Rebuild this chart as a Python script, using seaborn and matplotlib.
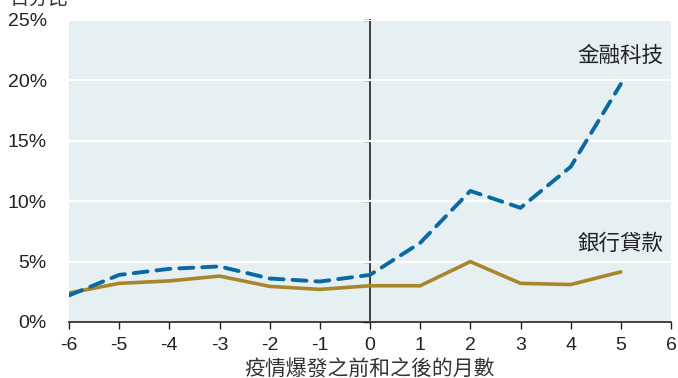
import matplotlib
matplotlib.use("Agg")
import matplotlib.pyplot as plt
import seaborn as sns
import pandas as pd

# Months before/after the outbreak and monthly growth (%)
months = [-6, -5, -4, -3, -2, -1, 0, 1, 2, 3, 4, 5]
fintech = [2.2, 3.9, 4.4, 4.6, 3.6, 3.35, 3.9, 6.55, 10.85, 9.45, 12.85, 19.7]
bank_loans = [2.4, 3.2, 3.4, 3.8, 2.95, 2.7, 3.0, 3.0, 5.0, 3.2, 3.1, 4.15]

series_labels = ["金融科技", "銀行貸款"]
x_ticks = [-6, -5, -4, -3, -2, -1, 0, 1, 2, 3, 4, 5, 6]
y_ticks = [0, 5, 10, 15, 20, 25]
y_tick_labels = ["0%", "5%", "10%", "15%", "20%", "25%"]
x_title = "疫情爆發之前和之後的月數"
y_title = "百分比"

BLUE = "#0a69a3"
GOLD = "#a8872c"
BG = "#e6eff2"
INK = "#222222"

sns.set_theme(style="white", rc={"axes.facecolor": BG})
plt.rcParams["font.family"] = ["Liberation Sans", "Noto Sans CJK TC", "DejaVu Sans"]

df = pd.DataFrame({"month": months, "fintech": fintech, "loans": bank_loans})

fig = plt.figure(figsize=(6.78, 3.78), dpi=100)
ax = fig.add_axes([69 / 678, 56 / 378, 602 / 678, 302 / 378])

ax.set_xlim(-6, 6)
ax.set_ylim(0, 25)
ax.set_yticks(y_ticks)
ax.set_yticklabels(y_tick_labels)
ax.set_xticks(x_ticks)
ax.set_xticklabels([str(v) for v in x_ticks])
ax.yaxis.grid(True, color="white", linewidth=1.6)
ax.set_axisbelow(True)

sns.lineplot(data=df, x="month", y="loans", ax=ax, color=GOLD,
             linewidth=2.6, solid_joinstyle="miter")
sns.lineplot(data=df, x="month", y="fintech", ax=ax, color=BLUE,
             linewidth=2.8, linestyle="--")
ax.lines[-1].set_dashes([3.6, 2.3])
ax.lines[-1].set_dash_capstyle("round")

for side in ["left", "top", "right"]:
    ax.spines[side].set_visible(False)
ax.spines["bottom"].set_color(INK)
ax.spines["bottom"].set_linewidth(1.2)

ax.tick_params(axis="x", direction="out", length=5, width=1, color=INK,
               labelsize=14, labelcolor=INK, pad=6, bottom=True)
ax.tick_params(axis="y", length=0, labelsize=14, labelcolor=INK, pad=16)

# Vertical reference axis at month 0 with short ticks on its left
mid = ax.secondary_yaxis(0.5)
mid.set_alignment("left")
mid.set_yticks(y_ticks)
mid.tick_params(axis="y", direction="out", length=5, width=1, color=INK,
                labelleft=False, labelright=False, left=True, right=False)
mid.spines["left"].set_visible(True)
mid.spines["left"].set_color(INK)
mid.spines["left"].set_linewidth(1.2)
for side in ["right", "top", "bottom"]:
    mid.spines[side].set_visible(False)

ax.set_xlabel(x_title, fontsize=15, color="#333333", labelpad=4)
ax.set_ylabel("")

ax.text(5.85, 22.0, series_labels[0], ha="right", va="center",
        fontsize=15.5, color=INK)
ax.text(5.85, 6.4, series_labels[1], ha="right", va="center",
        fontsize=15.5, color=INK)

fig.text(10 / 678, 1 + 10 / 378, y_title, ha="left", va="top",
         fontsize=14, color="#333333")

fig.savefig("out.png", dpi=100)
